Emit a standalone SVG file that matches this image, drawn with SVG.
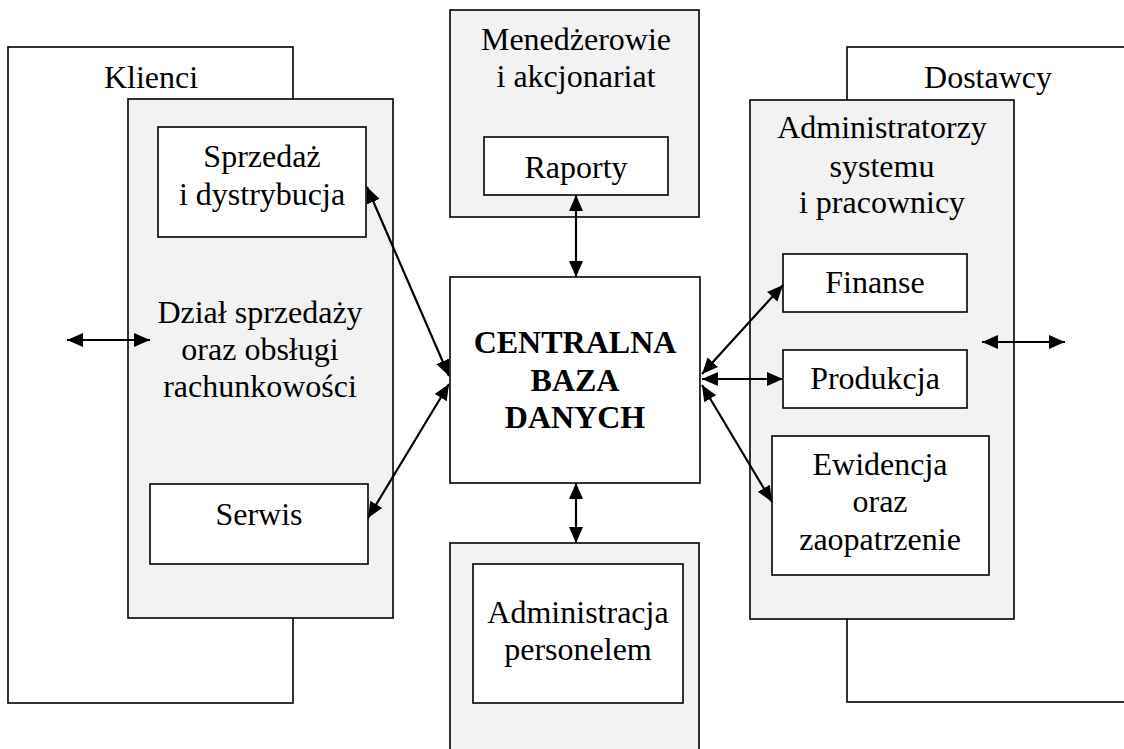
<svg xmlns="http://www.w3.org/2000/svg" width="1124" height="749" viewBox="0 0 1124 749">
<style>
.outer{fill:#fff;stroke:#000;stroke-width:1.6}
.gray{fill:#f2f2f2;stroke:#000;stroke-width:1.6}
.box{fill:#fff;stroke:#000;stroke-width:1.6}
text{font-family:"Liberation Serif","Times New Roman",serif;font-size:32px;fill:#000;text-anchor:middle}
.b{font-weight:bold}
.c{stroke:#000;stroke-width:2.2;fill:none;marker-start:url(#ah);marker-end:url(#ah)}
</style>
<defs>
<marker id="ah" markerUnits="userSpaceOnUse" markerWidth="17" markerHeight="17" viewBox="0 0 17 17" refX="16" refY="8.5" orient="auto-start-reverse">
<path d="M0,1.5 L16,8.5 L0,15.5 Z" fill="#000"/>
</marker>
</defs>
<rect width="1124" height="749" fill="#fff"/>
<g id="klienci">
<rect class="outer" x="8" y="47" width="285" height="656"/>
<text x="151" y="88">Klienci</text>
</g>
<g id="dostawcy">
<rect class="outer" x="847" y="47" width="290" height="655"/>
<text x="988" y="88">Dostawcy</text>
</g>
<g id="dzial">
<rect class="gray" x="128" y="99" width="265" height="519"/>
<text x="260" y="323">Dział sprzedaży</text>
<text x="260" y="360">oraz obsługi</text>
<text x="260" y="397">rachunkowości</text>
</g>
<g id="sprzedaz">
<rect class="box" x="158" y="127" width="208" height="110"/>
<text x="262" y="167">Sprzedaż</text>
<text x="262" y="205">i dystrybucja</text>
</g>
<g id="serwis">
<rect class="box" x="150" y="484" width="218" height="80"/>
<text x="259" y="525">Serwis</text>
</g>
<g id="menedzerowie">
<rect class="gray" x="450" y="10" width="249" height="207"/>
<text x="576" y="50">Menedżerowie</text>
<text x="576" y="87">i akcjonariat</text>
</g>
<g id="raporty">
<rect class="box" x="484" y="137" width="184" height="58"/>
<text x="576" y="178">Raporty</text>
</g>
<g id="centralna">
<rect class="box" x="450" y="277" width="250" height="206"/>
<text class="b" x="575" y="353">CENTRALNA</text>
<text class="b" x="575" y="391">BAZA</text>
<text class="b" x="575" y="428">DANYCH</text>
</g>
<g id="personel-grupa">
<rect class="gray" x="450" y="543" width="249" height="220"/>
</g>
<g id="administracja">
<rect class="box" x="473" y="564" width="210" height="139"/>
<text x="578" y="623">Administracja</text>
<text x="578" y="660">personelem</text>
</g>
<g id="administratorzy">
<rect class="gray" x="750" y="100" width="264" height="519"/>
<text x="882" y="138">Administratorzy</text>
<text x="882" y="177">systemu</text>
<text x="882" y="213">i pracownicy</text>
</g>
<g id="finanse">
<rect class="box" x="783" y="254" width="184" height="58"/>
<text x="875" y="293">Finanse</text>
</g>
<g id="produkcja">
<rect class="box" x="783" y="350" width="184" height="58"/>
<text x="875" y="389">Produkcja</text>
</g>
<g id="ewidencja">
<rect class="box" x="772" y="436" width="217" height="139"/>
<text x="880" y="475">Ewidencja</text>
<text x="880" y="512">oraz</text>
<text x="880" y="550">zaopatrzenie</text>
</g>
<g id="connectors">
<line class="c" x1="67" y1="340" x2="150" y2="340"/>
<line class="c" x1="982" y1="342" x2="1065" y2="342"/>
<line class="c" x1="576" y1="195" x2="576" y2="277"/>
<line class="c" x1="576" y1="483" x2="576" y2="543"/>
<line class="c" x1="367" y1="187" x2="449" y2="376"/>
<line class="c" x1="368" y1="518" x2="449" y2="384"/>
<line class="c" x1="702" y1="374" x2="783" y2="285"/>
<line class="c" x1="702" y1="379" x2="783" y2="379"/>
<line class="c" x1="702" y1="385" x2="772" y2="502"/>
</g>
</svg>
